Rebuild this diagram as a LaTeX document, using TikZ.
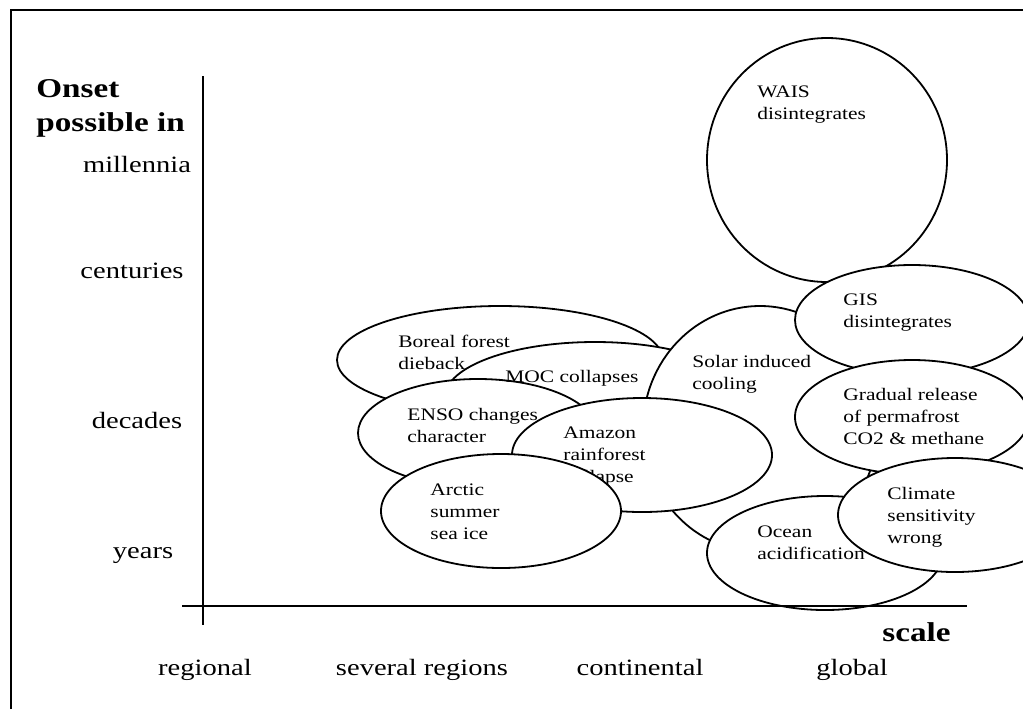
\documentclass[tikz,border=0pt]{standalone}
\usepackage{fontspec}
\setmainfont{Liberation Serif}[FakeStretch=1.22]
\usetikzlibrary{shapes.geometric}

\begin{document}
\begin{tikzpicture}[x=0.5pt, y=-0.5pt,
	bubble/.style={ellipse, draw, fill=white, line width=0.9pt, inner sep=0pt, outer sep=0pt},
	btext/.style={anchor=base west, align=left, inner sep=0pt, font=\fontsize{8.8}{11}\selectfont},
	tick/.style={anchor=base, inner sep=0pt, font=\fontsize{11.7}{14}\selectfont},
	head/.style={anchor=base west, align=left, inner sep=0pt, font=\fontsize{13.6}{17}\selectfont\bfseries}]
			
			\useasboundingbox (0,0) rectangle (1023,709);
			\draw[line width=1pt] (10.5,709) -- (10.5,10) -- (1023,10);
			
			% the bubbles, back to front
			\node[bubble, minimum width=120pt, minimum height=122pt] (wais) at (827,160) {};
			\node[bubble, minimum width=163pt, minimum height=54pt] (boreal) at (500,360) {};
			\node[bubble, minimum width=150pt, minimum height=55pt] (moc) at (595,397) {};
			\node[bubble, minimum width=120pt, minimum height=54pt] (enso) at (478,433) {};
			\node[bubble, minimum width=117pt, minimum height=123pt] (solar) at (760,429) {};
			\node[bubble, minimum width=130pt, minimum height=57pt] (amazon) at (642,455) {};
			\node[btext] (amazon-t) at (563,482) {Amazon\\rainforest\\collapse};
			\node[bubble, minimum width=120pt, minimum height=57pt] (arctic) at (501,511) {};
			\node[bubble, minimum width=117pt, minimum height=55pt] (gis) at (912,320) {};
			\node[bubble, minimum width=117pt, minimum height=57pt] (gradual) at (912,417) {};
			\node[bubble, minimum width=118pt, minimum height=57pt] (ocean) at (825,553) {};
			\node[bubble, minimum width=117pt, minimum height=57pt] (climate) at (955,515) {};
			
			% bubble texts (base = last line)
			\node[btext] (wais-t) at (757,119) {WAIS\\disintegrates};
			\node[btext] (boreal-t) at (398,369) {Boreal forest\\dieback};
			\node[btext] (moc-t) at (505,382) {MOC collapses};
			\node[btext] (enso-t) at (407,442) {ENSO changes\\character};
			\node[btext] (solar-t) at (692,389) {Solar induced\\cooling};
			\node[btext] (arctic-t) at (430,539) {Arctic\\summer\\sea ice};
			\node[btext] (gis-t) at (843,327) {GIS\\disintegrates};
			\node[btext] (gradual-t) at (843,444) {Gradual release\\of permafrost\\CO2 \& methane};
			\node[btext] (climate-t) at (887,543) {Climate\\sensitivity\\wrong};
			\node[btext] (ocean-t) at (757,559) {Ocean\\acidification};
			
			% axes
			\coordinate (ytop) at (203,76);
			\coordinate (ybot) at (203,625);
			\coordinate (xleft) at (182,606);
			\coordinate (xright) at (967,606);
			\draw[line width=0.9pt] (ytop) -- (ybot);
			\draw[line width=0.9pt] (xleft) -- (xright);
			
			\node[head] (onset) at (36,131) {Onset\\possible in};
			\node[head] (scale) at (882,641) {scale};
			
			\node[tick] (millennia) at (137,172) {millennia};
			\node[tick] (centuries) at (132,278) {centuries};
			\node[tick] (decades) at (137,428) {decades};
			\node[tick] (years) at (143,558) {years};
			
			\node[tick] (regional) at (205,675) {regional};
			\node[tick] (several) at (422,675) {several regions};
			\node[tick] (continental) at (640,675) {continental};
			\node[tick] (global) at (852,675) {global};
		\end{tikzpicture}
\end{document}
